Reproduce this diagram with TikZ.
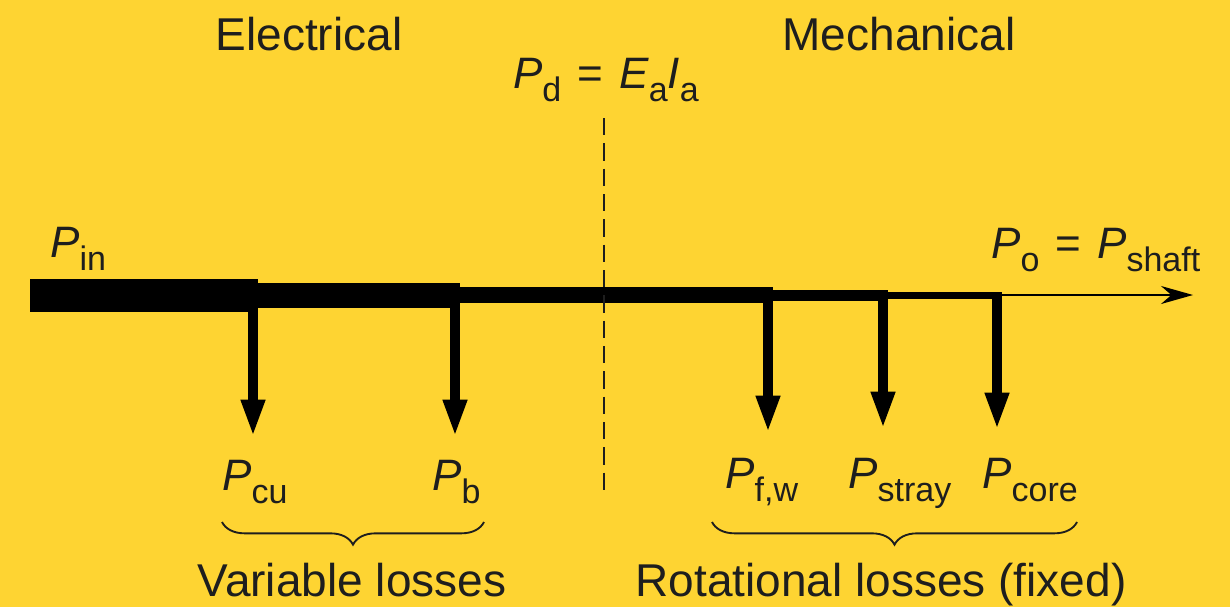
\documentclass[tikz,border=0pt]{standalone}
\usepackage{fontspec}
\setmainfont{Liberation Sans}
\usepackage{tikz}
\usetikzlibrary{arrows.meta,decorations.pathreplacing}
\definecolor{chapyellow}{RGB}{254,212,50}
\definecolor{inkgray}{RGB}{30,30,30}
\newcommand{\qsub}[2]{\textit{#1}\raisebox{-10pt}{\fontsize{25.5}{28}\selectfont #2}}
\newcommand{\qeq}{\kern12pt=\kern12pt}

\begin{document}
\begin{tikzpicture}[
    x=0.75pt, y=-0.75pt,
    every node/.style={inner sep=0pt, text=inkgray},
    heading/.style={font=\fontsize{34.5}{40}\selectfont, anchor=base},
    plabel/.style={font=\fontsize{33}{38}\selectfont, anchor=base west},
    bar/.style={draw=black, line width=#1, line cap=butt},
    loss/.style={draw=black, line width=7.5pt, -{Triangle[length=28pt,width=16.5pt]}},
    divider/.style={draw=inkgray, line width=1.1pt, dash pattern=on 13pt off 6pt},
    underbrace/.style={draw=inkgray, line width=1.4pt, decorate, decoration={brace, mirror, amplitude=17pt}}
]
    \fill[chapyellow] (0,0) rectangle (1230,607);
    \useasboundingbox (0,0) rectangle (1230,607);

    % headings
    \node[heading] (elec) at (309,50) {Electrical};
    \node[heading] (mech) at (899,50) {Mechanical};
    \node[plabel, anchor=base] (pd) at (606,88) {\qsub{P}{d}\qeq\qsub{E}{a}\qsub{I}{a}};

    % power flow
    \coordinate (in) at (30,295);
    \coordinate (cu) at (253,295);
    \coordinate (b) at (455,295);
    \coordinate (fw) at (768,295);
    \coordinate (st) at (883,295);
    \coordinate (co) at (997,295);
    \coordinate (out) at (1193,295);
    \draw[bar=24.75pt] (in) -- ([xshift=3.75pt]cu);
    \draw[bar=18.75pt] (cu) -- ([xshift=3.75pt]b);
    \draw[bar=12pt] (b) -- ([xshift=3.75pt]fw);
    \draw[bar=8.25pt] (fw) -- ([xshift=3.75pt]st);
    \draw[bar=5.25pt] (st) -- ([xshift=3.75pt]co);
    \draw[line width=1.5pt, -{Stealth[length=24pt,width=13.5pt]}] (co) -- (out);

    \node[plabel] (pin) at (50,257) {\qsub{P}{in}};
    \node[plabel] (po) at (991,258) {\qsub{P}{o}\qeq\qsub{P}{shaft}};

    % losses
    \coordinate (cuEnd) at (253,437);
    \coordinate (bEnd) at (455,437);
    \coordinate (fwEnd) at (768,433);
    \coordinate (stEnd) at (883,429);
    \coordinate (coEnd) at (997,430);
    \draw[loss] (cu) -- (cuEnd);
    \draw[loss] (b) -- (bEnd);
    \draw[loss] (fw) -- (fwEnd);
    \draw[loss] (st) -- (stEnd);
    \draw[loss] (co) -- (coEnd);

    \node[plabel] (pcu) at (222,490) {\qsub{P}{cu}};
    \node[plabel] (pb) at (432,490) {\qsub{P}{b}};
    \node[plabel] (pfw) at (725,488) {\qsub{P}{f,w}};
    \node[plabel] (pst) at (848,488) {\qsub{P}{stray}};
    \node[plabel] (pco) at (982,488) {\qsub{P}{core}};

    % electrical / mechanical divide
    \coordinate (divtop) at (604,118);
    \coordinate (divbot) at (604,492);
    \draw[divider] (divtop) -- (divbot);

    % groupings
    \coordinate (varL) at (222,522);
    \coordinate (varR) at (484,522);
    \coordinate (rotL) at (712,522);
    \coordinate (rotR) at (1077,522);
    \draw[underbrace] (varL) -- (varR);
    \draw[underbrace] (rotL) -- (rotR);
    \node[heading] (varloss) at (352,596) {Variable losses};
    \node[heading] (rotloss) at (881,596) {Rotational losses (fixed)};
\end{tikzpicture}
\end{document}
